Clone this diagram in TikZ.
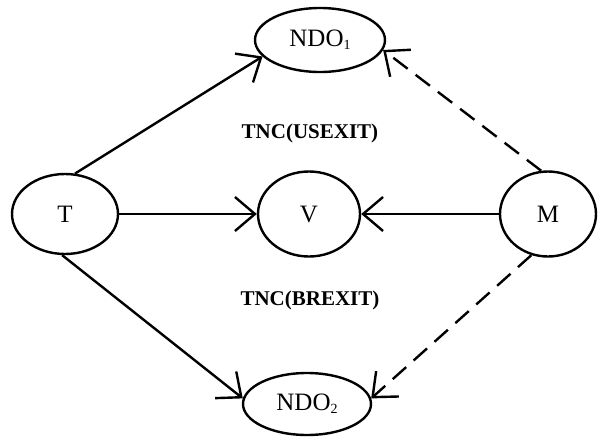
\documentclass[tikz,border=0pt]{standalone}
\usepackage{fontspec}
\setmainfont{Liberation Serif}
\usetikzlibrary{arrows.meta,shapes.geometric}
\tikzset{
  ell/.style={draw, ellipse, line width=2.4pt, inner sep=0pt, font=\fontsize{25}{25}\selectfont},
  conn/.style={line width=2.4pt, -{Straight Barb[length=20pt,width=34pt]}},
  dconn/.style={conn, dash pattern=on 18pt off 10pt},
  lbl/.style={font=\fontsize{21}{21}\selectfont\bfseries}
}
\newcommand{\subone}[1]{\raisebox{-0.25ex}{\fontsize{14}{14}\selectfont #1}}
\begin{document}
\begin{tikzpicture}[x=1pt,y=-1pt]
\useasboundingbox (0,0) rectangle (598,440);
\node[ell, minimum width=106pt, minimum height=80pt] (T) at (65,214) {T};
\node[ell, minimum width=102pt, minimum height=85pt] (V) at (309,214) {V};
\node[ell, minimum width=96pt, minimum height=85pt] (M) at (548,214) {M};
\node[ell, minimum width=130pt, minimum height=64pt] (N1) at (320,40) {NDO\subone{1}};
\node[ell, minimum width=128pt, minimum height=62pt] (N2) at (307,404) {NDO\subone{2}};
\node[lbl] (L1) at (310,133) {TNC(USEXIT)};
\node[lbl] (L2) at (310,300) {TNC(BREXIT)};
\draw[conn] (T.76) -- (N1.196);
\draw[conn] (T.east) -- (V.west);
\draw[conn] (T.266) -- (N2.175);
\draw[conn] (M.west) -- (V.east);
\draw[dconn] (M.99) -- (N1.351);
\draw[dconn] (M.248) -- (N2.5);
\end{tikzpicture}
\end{document}
